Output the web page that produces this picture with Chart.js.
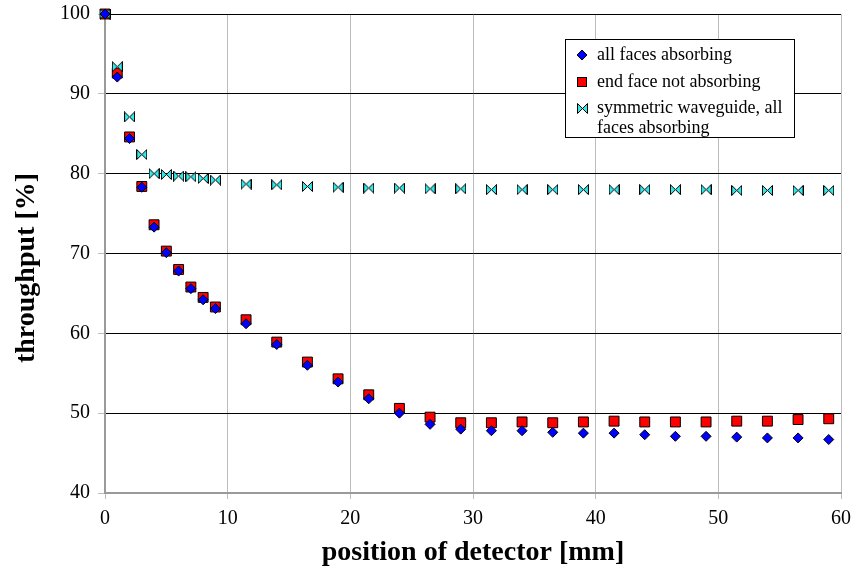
<!DOCTYPE html>
<html>
<head>
<meta charset="utf-8">
<script src="https://cdn.jsdelivr.net/npm/chart.js@4/dist/chart.umd.min.js"></script>
<style>
  html, body { margin: 0; padding: 0; background: #fff; }
  canvas { display: block; }
</style>
</head>
<body>
<canvas id="throughputChart" width="852" height="581"></canvas>
<script>
// positions of detector [mm]
const positions = [0, 1, 2, 3, 4, 5, 6, 7, 8, 9, 11.5, 14, 16.5, 19, 21.5, 24, 26.5, 29, 31.5, 34, 36.5, 39, 41.5, 44, 46.5, 49, 51.5, 54, 56.5, 59];

// throughput [%]
const allFacesAbsorbing = [100, 92.1, 84.4, 78.3, 73.3, 70.1, 67.8, 65.6, 64.2, 63.1, 61.2, 58.6, 56.0, 53.9, 51.8, 50.0, 48.6, 48.0, 47.8, 47.8, 47.6, 47.5, 47.5, 47.3, 47.1, 47.1, 47.0, 46.9, 46.9, 46.7];
const endFaceNotAbsorbing = [100, 92.6, 84.6, 78.4, 73.6, 70.3, 68.0, 65.8, 64.5, 63.3, 61.7, 58.9, 56.4, 54.3, 52.3, 50.6, 49.5, 48.8, 48.8, 48.9, 48.8, 48.9, 49.0, 48.9, 48.9, 48.9, 49.0, 49.0, 49.2, 49.3];
const symmetricWaveguide = [100, 93.4, 87.1, 82.4, 80.0, 79.9, 79.7, 79.6, 79.4, 79.2, 78.7, 78.6, 78.4, 78.3, 78.2, 78.2, 78.1, 78.1, 78.0, 78.0, 78.0, 78.0, 78.0, 78.0, 78.0, 78.0, 77.9, 77.9, 77.9, 77.9];

const seriesLabels = ['all faces absorbing', 'end face not absorbing', 'symmetric waveguide, all faces absorbing'];
const xTicks = [0, 10, 20, 30, 40, 50, 60];
const yTicks = [40, 50, 60, 70, 80, 90, 100];

const serif = "'Liberation Serif', 'DejaVu Serif', 'Times New Roman', serif";

// bowtie marker (no built-in pointStyle for it)
function makeBowtie() {
  const c = document.createElement('canvas');
  c.width = 11; c.height = 11;
  const g = c.getContext('2d');
  g.fillStyle = '#33e8e8';
  g.strokeStyle = '#000';
  g.lineWidth = 1;
  g.beginPath();
  g.moveTo(0.5, 0.5); g.lineTo(5.5, 5.5); g.lineTo(0.5, 10.5); g.closePath();
  g.moveTo(10.5, 0.5); g.lineTo(5.5, 5.5); g.lineTo(10.5, 10.5); g.closePath();
  g.fill(); g.stroke();
  return c;
}
const bowtie = makeBowtie();

const toPoints = ys => positions.map((x, i) => ({ x: x, y: ys[i] }));

// y title sits a bit below the plot centre in the original
const yTitle = {
  id: 'yTitle',
  afterDraw(chart) {
    const ctx = chart.ctx;
    ctx.save();
    ctx.translate(27, 268);
    ctx.rotate(-Math.PI / 2);
    ctx.fillStyle = '#000';
    ctx.font = 'bold 28px ' + serif;
    ctx.textAlign = 'center';
    ctx.textBaseline = 'middle';
    ctx.fillText('throughput [%]', 0, 0);
    ctx.restore();
  }
};

// legend box inside the plot, with the wrapped third entry
const boxLegend = {
  id: 'boxLegend',
  afterDraw(chart) {
    const ctx = chart.ctx;
    const x0 = 565, y0 = 39, w = 229, h = 98;
    ctx.save();
    ctx.fillStyle = '#fff';
    ctx.fillRect(x0, y0, w, h);
    ctx.strokeStyle = '#000';
    ctx.lineWidth = 1;
    ctx.strokeRect(x0 + 0.5, y0 + 0.5, w, h);

    const mx = 582, tx = 597;
    // diamond
    ctx.beginPath();
    ctx.moveTo(mx, 50); ctx.lineTo(mx + 5, 55); ctx.lineTo(mx, 60); ctx.lineTo(mx - 5, 55); ctx.closePath();
    ctx.fillStyle = '#0000ff'; ctx.fill(); ctx.strokeStyle = '#000'; ctx.stroke();
    // square
    ctx.fillStyle = '#ff0000';
    ctx.fillRect(mx - 5, 77, 10, 10);
    ctx.strokeRect(mx - 4.5, 77.5, 9, 9);
    // bowtie
    ctx.drawImage(bowtie, mx - 5, 103);

    ctx.fillStyle = '#000';
    ctx.font = '18px ' + serif;
    ctx.textBaseline = 'middle';
    ctx.textAlign = 'left';
    ctx.fillText(seriesLabels[0], tx, 55);
    ctx.fillText(seriesLabels[1], tx, 82);
    ctx.fillText('symmetric waveguide, all', tx, 108);
    ctx.fillText('faces absorbing', tx, 128);
    ctx.restore();
  }
};

new Chart(document.getElementById('throughputChart'), {
  type: 'scatter',
  data: {
    datasets: [
      {
        label: seriesLabels[0],
        data: toPoints(allFacesAbsorbing),
        order: 0,
        pointStyle: 'rectRot',
        pointRadius: 5,
        backgroundColor: '#0000ff',
        borderColor: '#000',
        borderWidth: 1,
        clip: false
      },
      {
        label: seriesLabels[1],
        data: toPoints(endFaceNotAbsorbing),
        order: 2,
        pointStyle: 'rect',
        pointRadius: 7,
        backgroundColor: '#ff0000',
        borderColor: '#000',
        borderWidth: 1,
        clip: false
      },
      {
        label: seriesLabels[2],
        data: toPoints(symmetricWaveguide),
        order: 1,
        pointStyle: bowtie,
        pointRadius: 6,
        backgroundColor: '#33e8e8',
        borderColor: '#000',
        borderWidth: 1,
        clip: false
      }
    ]
  },
  options: {
    responsive: false,
    animation: false,
    events: [],
    layout: { padding: { top: 14, right: 11, left: 0, bottom: 0 } },
    plugins: {
      legend: { display: false },
      tooltip: { enabled: false }
    },
    scales: {
      x: {
        type: 'linear',
        min: 0,
        max: 60,
        afterBuildTicks: s => { s.ticks = xTicks.map(v => ({ value: v })); },
        afterFit: s => { s.height = 88; s.paddingLeft = 0; s.paddingRight = 0; },
        ticks: {
          color: '#000',
          font: { family: serif, size: 20 },
          padding: 8,
          maxRotation: 0
        },
        grid: {
          color: '#bcbcbc',
          lineWidth: 1,
          tickLength: 6,
          tickColor: '#bcbcbc'
        },
        border: { color: '#9a9a9a', width: 2 },
        title: {
          display: true,
          text: 'position of detector [mm]',
          color: '#000',
          font: { family: serif, size: 28, weight: 'bold' },
          padding: { top: 0, bottom: 11 }
        }
      },
      y: {
        min: 40,
        max: 100,
        afterBuildTicks: s => { s.ticks = yTicks.map(v => ({ value: v })); },
        afterFit: s => { s.width = 105; s.paddingTop = 0; s.paddingBottom = 0; },
        ticks: {
          color: '#000',
          font: { family: serif, size: 20 },
          padding: 8
        },
        grid: {
          color: ctx => (ctx.tick && ctx.tick.value === 40) ? 'rgba(0,0,0,0)' : '#000',
          lineWidth: 1,
          tickLength: 7,
          tickColor: '#bcbcbc'
        },
        border: { color: '#9a9a9a', width: 2 },
        title: { display: false }
      }
    }
  },
  plugins: [yTitle, boxLegend]
});
</script>
</body>
</html>
